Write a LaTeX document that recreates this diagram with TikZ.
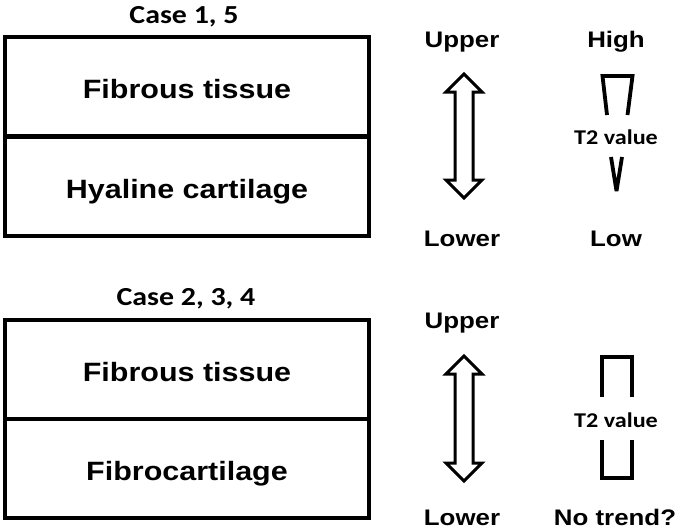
\documentclass[tikz,border=0pt]{standalone}
\usepackage{fontspec}
\setmainfont{Liberation Sans}[FakeStretch=1.15]
\newfontfamily\calib{Carlito}[FakeStretch=1.15]
\usetikzlibrary{positioning}

\begin{document}
\begin{tikzpicture}[x=1pt,y=-1pt,
 layer/.style = {draw, line width=4pt, minimum width=364pt, minimum height=99pt,
   inner sep=0pt, text height=24pt, text depth=0pt, font=\fontsize{26.5}{30}\selectfont\bfseries},
 casetitle/.style = {anchor=base, inner sep=0pt, font=\calib\fontsize{26}{29}\selectfont\bfseries},
 side/.style = {anchor=base, inner sep=0pt, font=\fontsize{22.5}{26}\selectfont\bfseries},
 tval/.style = {inner sep=0pt, font=\calib\fontsize{21}{24}\selectfont\bfseries},
 updown/.style = {line width=3pt, line join=miter},
 bar/.style = {line width=3.8pt}]
 \useasboundingbox (0,0) rectangle (676,531);
 \node [casetitle] (case15) at (184,23) {Case 1, 5};
 \node [layer] (fib1) at (187,86.5) {Fibrous tissue};
 \node [layer] (hya1) at (187,186) {Hyaline cartilage};
 \node [casetitle] (case234) at (186,305) {Case 2, 3, 4};
 \node [layer] (fib2) at (187,369) {Fibrous tissue};
 \node [layer] (frc2) at (187,468.5) {Fibrocartilage};

 \node [side] (up1) at (462,47) {Upper};
 \node [side] (lo1) at (462,246) {Lower};
 \node [side] (hi1) at (616,47) {High};
 \node [side] (low1) at (616,246) {Low};
 \node [tval] (t21) at (616,137) {T2 value};
 \node [side] (up2) at (462,328) {Upper};
 \node [side] (lo2) at (462,525) {Lower};
 \node [side] (nt2) at (615,525) {No trend?};
 \node [tval] (t22) at (616,420) {T2 value};

 \draw [updown] (464,74) -- (482,92) -- (473,92) -- (473,180) -- (482,180) -- (464,198)
   -- (446,180) -- (455,180) -- (455,92) -- (446,92) -- cycle;
 \draw [updown] (464,356) -- (482,374) -- (473,374) -- (473,463) -- (482,463) -- (464,481)
   -- (446,463) -- (455,463) -- (455,374) -- (446,374) -- cycle;

 \draw [bar] (607,115) -- (602.5,76) -- (632.5,76) -- (627.5,115);
 \draw [bar, line join=bevel] (611,157) -- (616.5,191) -- (622,157);
 \draw [bar] (602,397) -- (602,357) -- (632,357) -- (632,397);
 \draw [bar] (602,440) -- (602,478) -- (632,478) -- (632,440);
\end{tikzpicture}
\end{document}
